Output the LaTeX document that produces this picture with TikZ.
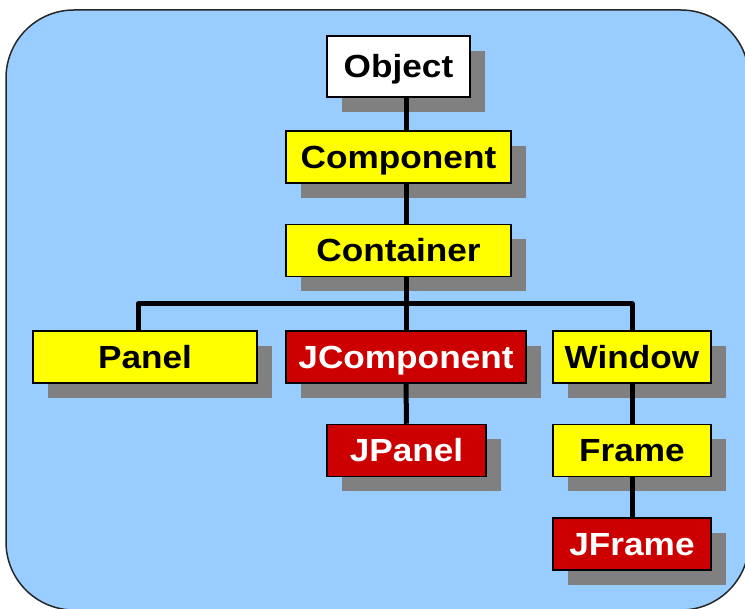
\documentclass[tikz,border=0pt]{standalone}
\usepackage{fontspec}
\newfontfamily\boxfont{Liberation Sans}[FakeStretch=1.1]
\usetikzlibrary{shadows,calc}
\definecolor{panelblue}{RGB}{153,204,255}
\definecolor{boxyellow}{RGB}{255,255,0}
\definecolor{boxred}{RGB}{204,0,0}
\definecolor{shadowgray}{RGB}{128,128,128}
\tikzset{
    backdrop/.style = {draw=black!85, line width=1.5pt, fill=panelblue,
        rounded corners=68pt},
    box/.style = {draw, rectangle, line width=1.5pt,
        minimum height=52pt, inner sep=0pt,
        text height=23pt, text depth=0pt,
        font=\boxfont\bfseries\fontsize{32}{36}\selectfont,
        drop shadow={shadow xshift=15pt, shadow yshift=-15pt,
            fill=shadowgray, opacity=1}},
    whitebox/.style = {box, fill=white},
    yellowbox/.style = {box, fill=boxyellow},
    redbox/.style = {box, fill=boxred, text=white},
    link/.style = {draw, line width=5pt, line join=round}
}

\begin{document}
\begin{tikzpicture}[x=1pt,y=-1pt]
            \useasboundingbox (0,0) rectangle (745,609);
            \draw[backdrop] (6,10) rectangle (749,610);
            \node[whitebox, minimum width=143pt, minimum height=61pt] (obj) at (398.5,66.5) {Object};
            \node[yellowbox, minimum width=225pt] (comp) at (398.5,157) {Component};
            \node[yellowbox, minimum width=225pt] (cont) at (398.5,250.5) {Container};
            \node[yellowbox, minimum width=224pt] (panel) at (145,357) {Panel};
            \node[redbox, minimum width=240pt] (jcomp) at (406,357) {JComponent};
            \node[yellowbox, minimum width=158pt] (win) at (632,357) {Window};
            \node[redbox, minimum width=159pt] (jpanel) at (406.5,450.5) {JPanel};
            \node[yellowbox, minimum width=158pt] (frame) at (632,450.5) {Frame};
            \node[redbox, minimum width=158pt] (jframe) at (632,544) {JFrame};
            \coordinate (bus) at (406,304);
            \draw[link] (obj.south -| bus) -- (comp.north -| bus);
            \draw[link] (comp.south -| bus) -- (cont.north -| bus);
            \draw[link] (cont.south -| bus) -- (jcomp.north);
            \draw[link] ([xshift=-7pt]panel.north) |- (bus) -| (win.north);
            \draw[link] (jcomp.south) -- (jpanel.north);
            \draw[link] (win.south) -- (frame.north);
            \draw[link] (frame.south) -- (jframe.north);
        \end{tikzpicture}
\end{document}
